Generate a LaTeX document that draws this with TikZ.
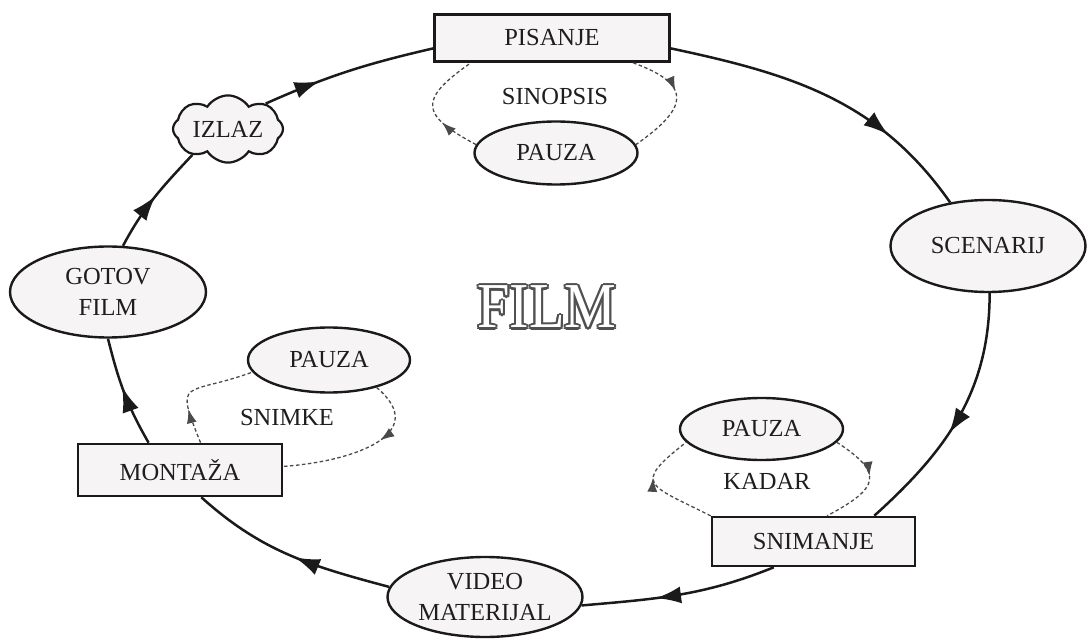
\documentclass[tikz,border=0pt]{standalone}
\usepackage{fontspec}
\setmainfont{Liberation Serif}
\usetikzlibrary{shapes.geometric,shapes.symbols,arrows.meta,decorations.markings}
\definecolor{nodefill}{HTML}{F6F4F4}
\definecolor{linec}{HTML}{1A1A1A}
\definecolor{txt}{HTML}{1E1E1E}
\definecolor{dashc}{HTML}{4A4A4A}
\definecolor{filmgray}{HTML}{505050}
\begin{document}
\begin{tikzpicture}[x=1pt,y=1pt,
  lbl/.style={font=\fontsize{24.5}{31}\selectfont, text=txt, align=center, inner sep=0pt},
  boxnode/.style={lbl, draw=linec, line width=2.6pt, fill=nodefill, rectangle},
  ovalnode/.style={lbl, draw=linec, line width=2.4pt, fill=nodefill, ellipse},
  cloudnode/.style={lbl, draw=linec, line width=2.2pt, fill=nodefill, cloud, cloud puffs=8, cloud puff arc=115, aspect=2},
  flow/.style={draw=linec, line width=2.5pt, postaction={decorate},
    decoration={markings, mark=at position #1 with {\arrow{Latex[length=25pt,width=17pt]}}}},
  flow/.default=0.5,
  loopline/.style={draw=dashc, line width=1.3pt, dash pattern=on 3.5pt off 2.5pt, postaction={decorate},
    decoration={markings, mark=at position #1 with {\arrow{Latex[length=14pt,width=10pt]}}}},
  filmtext/.style={font=\fontsize{64}{64}\selectfont, inner sep=0pt}
]
\useasboundingbox (0,0) rectangle (1088,-639);

% main nodes
\node[boxnode, minimum width=235pt, minimum height=47pt] (pis) at (552,-38) {PISANJE};
\node[ovalnode, minimum width=195pt, minimum height=92pt] (scen) at (988,-246) {SCENARIJ};
\node[boxnode, minimum width=203pt, minimum height=49pt] (snim) at (813.5,-541.5) {SNIMANJE};
\node[ovalnode, minimum width=195pt, minimum height=80pt] (video) at (485,-597) {VIDEO\\MATERIJAL};
\node[boxnode, minimum width=204pt, minimum height=52pt] (mont) at (180,-470) {MONTAŽA};
\node[ovalnode, minimum width=196pt, minimum height=91pt] (gotov) at (108,-292) {GOTOV\\FILM};
\node[cloudnode, minimum width=110pt, minimum height=64pt] (izlaz) at (228,-129) {IZLAZ};

% pause nodes
\node[ovalnode, minimum width=163pt, minimum height=63pt] (p1) at (556,-153) {PAUZA};
\node[ovalnode, minimum width=162pt, minimum height=65pt] (p2) at (329,-360) {PAUZA};
\node[ovalnode, minimum width=163pt, minimum height=62pt] (p3) at (761.5,-429) {PAUZA};

% loop labels
\node[lbl] (sinopsis) at (555,-97) {SINOPSIS};
\node[lbl] (snimke) at (287,-418) {SNIMKE};
\node[lbl] (kadar) at (767,-481) {KADAR};

% FILM outlined title
\foreach \a in {0,30,...,330}{
  \path (547,-307) ++(\a:2.1) node[filmtext, text=filmgray] (filmo\a) {\scalebox{0.91}[1]{FILM}};
}
\node[filmtext, text=white] (film) at (547,-307) {\scalebox{0.91}[1]{FILM}};

% main cycle
\draw[flow=0.72] (pis.-5)    to[out=-12,in=125]  (scen.131);
\draw[flow=0.57] (scen.-88)  to[out=-90,in=42]   (snim.23);
\draw[flow=0.62] (snim.213)  to[out=202,in=5]    (video.-5);
\draw[flow=0.47] (video.174) to[out=165,in=-42]  (mont.-52);
\draw[flow=0.55] (mont.139)  to[out=120,in=-76]  (gotov.-90);
\draw[flow=0.52] (gotov.72)  to[out=62,in=-133]  (izlaz.216);
\draw[flow=0.33] (izlaz.34)  to[out=24,in=-167]  (pis.185);

% SINOPSIS loop
\draw[loopline=0.42] (pis.-17) to[out=-20,in=35,looseness=2] (p1.6);
\draw[loopline=0.34] (p1.174)  to[out=152,in=215,looseness=2] (pis.197);

% SNIMKE loop
\draw[loopline=0.3]  (mont.53) to[out=112,in=200,looseness=2.1] (p2.189);
\draw[loopline=0.39] (p2.-30)  to[out=-40,in=4,looseness=1.5] (mont.2);

% KADAR loop
\draw[loopline=0.44] (p3.-10)  to[out=-33,in=28,looseness=2] (snim.62);
\draw[loopline=0.59] (snim.166) to[out=153,in=218,looseness=2.3] (p3.190);
\end{tikzpicture}
\end{document}
